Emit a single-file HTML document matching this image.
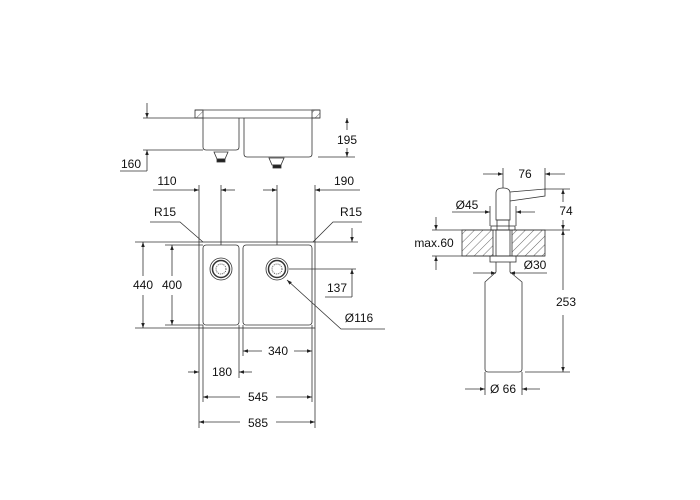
<!DOCTYPE html>
<html><head><style>html,body{margin:0;padding:0;background:#fff}svg{display:block}</style></head><body>
<svg width="700" height="500" viewBox="0 0 700 500" xmlns="http://www.w3.org/2000/svg" font-family="Liberation Sans, sans-serif" font-size="12" fill="#111">
<defs>
<marker id="a" viewBox="0 0 10 10" refX="10" refY="5" markerWidth="7" markerHeight="5" orient="auto-start-reverse" markerUnits="userSpaceOnUse"><path d="M0,1.5L10,5L0,8.5z" fill="#222"/></marker>
<pattern id="h" width="6" height="6" patternUnits="userSpaceOnUse" patternTransform="rotate(45)"><line x1="0" y1="0" x2="0" y2="6" stroke="#444" stroke-width="0.8"/></pattern>
</defs>
<g stroke="#333" stroke-width="0.8" fill="none">
<!-- side view -->
<rect x="195" y="110" width="8" height="8" fill="url(#h)"/>
<rect x="312" y="110" width="8" height="8" fill="url(#h)"/>
<line x1="195" y1="110" x2="320" y2="110"/>
<line x1="143" y1="118" x2="320" y2="118"/>
<path d="M203,118V147q0,3 3,3H236q3,0 3,-3V118"/>
<path d="M244,118V154q0,3 3,3H309q3,0 3,-3V118"/>
<path d="M214,152h14l-3,7h-8z" fill="#fff"/><rect x="217" y="159" width="8" height="3" fill="#222"/>
<path d="M269,158h15l-3,7h-9z" fill="#fff"/><rect x="273" y="165" width="8" height="3" fill="#222"/>
<line x1="147" y1="103" x2="147" y2="118" marker-end="url(#a)"/>
<line x1="143" y1="150" x2="203" y2="150"/>
<line x1="147" y1="171" x2="147" y2="150" marker-end="url(#a)"/>
<line x1="120" y1="171" x2="147" y2="171"/>
<line x1="318" y1="157" x2="355" y2="157"/>
<line x1="347" y1="130" x2="347" y2="118" marker-end="url(#a)"/>
<line x1="347" y1="148" x2="347" y2="157" marker-end="url(#a)"/>
<!-- 110/190 -->
<line x1="153" y1="190" x2="199" y2="190" marker-end="url(#a)"/>
<line x1="235" y1="190" x2="221" y2="190" marker-end="url(#a)"/>
<line x1="263" y1="190" x2="277" y2="190" marker-end="url(#a)"/>
<line x1="360" y1="190" x2="315" y2="190" marker-end="url(#a)"/>
<line x1="199" y1="185" x2="199" y2="242"/>
<line x1="221" y1="185" x2="221" y2="245"/>
<line x1="277" y1="185" x2="277" y2="245"/>
<line x1="315" y1="185" x2="315" y2="242"/>
<path d="M150,222H180L203,242"/>
<path d="M362,222H333L313,242"/>
<line x1="352" y1="228" x2="352" y2="242" marker-end="url(#a)"/>
<!-- plan -->
<rect x="199" y="242" width="116" height="86"/>
<rect x="203" y="245" width="36" height="80" rx="3"/>
<rect x="243" y="245" width="69" height="80" rx="3"/>
<line x1="135" y1="242" x2="199" y2="242"/><line x1="135" y1="328" x2="199" y2="328"/>
<line x1="165" y1="245" x2="203" y2="245"/><line x1="165" y1="325" x2="203" y2="325"/>
<line x1="315" y1="242" x2="358" y2="242"/>
<line x1="143" y1="276" x2="143" y2="242" marker-end="url(#a)"/>
<line x1="143" y1="295" x2="143" y2="328" marker-end="url(#a)"/>
<line x1="172" y1="276" x2="172" y2="245" marker-end="url(#a)"/>
<line x1="172" y1="295" x2="172" y2="325" marker-end="url(#a)"/>
<circle cx="221" cy="269" r="11"/><circle cx="221" cy="269" r="8.5" stroke-width="1.5"/><circle cx="221" cy="269" r="5" stroke-dasharray="1 1"/>
<circle cx="277" cy="269" r="11"/><circle cx="277" cy="269" r="8.5" stroke-width="1.5"/><circle cx="277" cy="269" r="5" stroke-dasharray="1 1"/>
<line x1="289" y1="269" x2="356" y2="269"/>
<line x1="352" y1="282" x2="352" y2="269" marker-end="url(#a)"/>
<line x1="325" y1="297" x2="352" y2="297"/><line x1="352" y1="297" x2="352" y2="282"/>
<path d="M385,329H341L287,280" marker-end="url(#a)"/>
<line x1="199" y1="328" x2="199" y2="428"/><line x1="315" y1="328" x2="315" y2="428"/>
<line x1="203" y1="325" x2="203" y2="402"/><line x1="312" y1="325" x2="312" y2="402"/>
<line x1="239" y1="325" x2="239" y2="378"/><line x1="243" y1="325" x2="243" y2="356"/>
<line x1="262" y1="351" x2="243" y2="351" marker-end="url(#a)"/>
<line x1="294" y1="351" x2="312" y2="351" marker-end="url(#a)"/>
<line x1="188" y1="372" x2="199" y2="372" marker-end="url(#a)"/>
<line x1="252" y1="372" x2="239" y2="372" marker-end="url(#a)"/>
<line x1="240" y1="397" x2="203" y2="397" marker-end="url(#a)"/>
<line x1="276" y1="397" x2="312" y2="397" marker-end="url(#a)"/>
<line x1="240" y1="422" x2="199" y2="422" marker-end="url(#a)"/>
<line x1="276" y1="422" x2="315" y2="422" marker-end="url(#a)"/>
<!-- dispenser -->
<rect x="462" y="230" width="31" height="26" fill="url(#h)"/>
<rect x="512" y="230" width="33" height="26" fill="url(#h)"/>
<line x1="432" y1="230" x2="545" y2="230"/><line x1="432" y1="256" x2="545" y2="256"/>
<rect x="496" y="230" width="14" height="26"/>
<path d="M496,220V193q0,-5 7,-5q7,0 7,5V220z"/>
<path d="M510,192L545,189V196L510,201"/>
<rect x="497" y="220" width="12" height="10"/>
<rect x="491" y="226" width="24" height="4"/>
<rect x="490" y="256" width="26" height="6"/>
<path d="M496,262V272L485,282V369q0,3 3,3H519q3,0 3,-3V282L510,272V262"/>
<line x1="503" y1="168" x2="503" y2="188"/><line x1="545" y1="168" x2="545" y2="190"/>
<line x1="483" y1="174" x2="503" y2="174" marker-end="url(#a)"/>
<line x1="565" y1="174" x2="545" y2="174" marker-end="url(#a)"/>
<line x1="545" y1="189" x2="570" y2="189"/>
<line x1="563" y1="202" x2="563" y2="189" marker-end="url(#a)"/>
<line x1="563" y1="220" x2="563" y2="230" marker-end="url(#a)"/>
<line x1="545" y1="230" x2="570" y2="230"/>
<line x1="452" y1="212" x2="490" y2="212" marker-end="url(#a)"/>
<line x1="535" y1="212" x2="516" y2="212" marker-end="url(#a)"/>
<line x1="490" y1="206" x2="490" y2="226"/><line x1="516" y1="206" x2="516" y2="226"/>
<line x1="436" y1="217" x2="436" y2="230" marker-end="url(#a)"/>
<line x1="436" y1="270" x2="436" y2="256" marker-end="url(#a)"/>
<line x1="473" y1="273" x2="496" y2="273" marker-end="url(#a)"/>
<line x1="547" y1="273" x2="510" y2="273" marker-end="url(#a)"/>
<line x1="563" y1="290" x2="563" y2="230" marker-end="url(#a)"/>
<line x1="563" y1="315" x2="563" y2="372" marker-end="url(#a)"/>
<line x1="525" y1="372" x2="570" y2="372"/>
<line x1="485" y1="372" x2="485" y2="395"/><line x1="522" y1="372" x2="522" y2="395"/>
<line x1="465" y1="389" x2="485" y2="389" marker-end="url(#a)"/>
<line x1="540" y1="389" x2="522" y2="389" marker-end="url(#a)"/>
</g>
<g text-anchor="middle" dominant-baseline="central">
<text x="347" y="140">195</text>
<text x="131" y="164">160</text>
<text x="167" y="181">110</text>
<text x="344" y="181">190</text>
<text x="165" y="212">R15</text>
<text x="351" y="212">R15</text>
<text x="143" y="285">440</text>
<text x="172" y="285">400</text>
<text x="337" y="288">137</text>
<text x="359" y="318">Ø116</text>
<text x="278" y="351">340</text>
<text x="222" y="372">180</text>
<text x="258" y="397">545</text>
<text x="258" y="423">585</text>
<text x="525" y="174">76</text>
<text x="566" y="211">74</text>
<text x="467" y="205">Ø45</text>
<text x="434" y="243">max.60</text>
<text x="535" y="265">Ø30</text>
<text x="566" y="302">253</text>
<text x="503" y="389">Ø 66</text>
</g>
</svg>
</body></html>
